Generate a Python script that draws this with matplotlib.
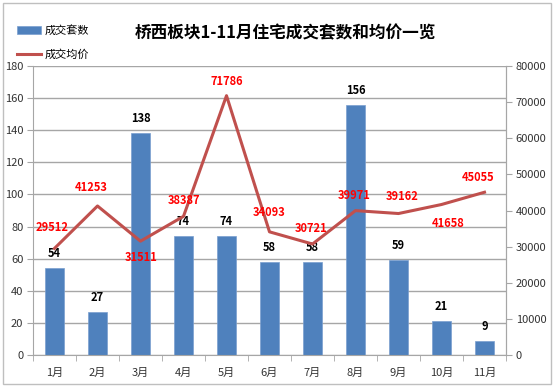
import matplotlib.pyplot as plt
import numpy as np
from matplotlib.patches import Rectangle

plt.rcParams['font.family'] = ['Noto Sans CJK SC', 'DejaVu Sans']

# data
months = ['1月', '2月', '3月', '4月', '5月', '6月', '7月', '8月', '9月', '10月', '11月']
deals = [54, 27, 138, 74, 74, 58, 58, 156, 59, 21, 9]
prices = [29512, 41253, 31511, 38387, 71786, 34093, 30721, 39971, 39162, 41658, 45055]

# label offsets for the price labels (pixels), like the excel data labels
price_off = [(-2, 21), (-6, 18), (1, -16), (1, 16), (0, 14), (0, 19),
             (-1, 16), (-1, 15), (4, 17), (7, -19), (-6, 15)]

bar_color = '#4F81BD'
line_color = '#C0504D'
grid_color = '#A6A6A6'

fig = plt.figure(figsize=(5.54, 3.87), dpi=100)
fig.patches.append(Rectangle((0.006, 0.008), 0.988, 0.984, transform=fig.transFigure,
                             fill=False, edgecolor='#BFBFBF', linewidth=1))

ax = fig.add_axes([33 / 554, 1 - 355 / 387, 473 / 554, 289 / 387])
x = np.arange(len(months))

ax.bar(x, deals, width=0.42, color=bar_color, edgecolor='#7A9FCF', linewidth=0.5,
       zorder=2, label='成交套数')
for xi, v in zip(x, deals):
    ax.annotate(str(v), (xi, v), textcoords='offset pixels', xytext=(0, 8),
                ha='center', va='bottom', fontsize=8, fontweight='bold', color='black')

ax.set_ylim(0, 180)
ax.set_yticks(np.arange(0, 181, 20))
ax.set_xlim(-0.5, len(months) - 0.5)
ax.set_xticks(x)
ax.set_xticklabels(months)
ax.set_xticks(np.arange(-0.5, len(months), 1), minor=True)
ax.tick_params(axis='x', which='major', length=0, pad=9, labelsize=8, colors='#333333')
ax.tick_params(axis='x', which='minor', length=4, color=grid_color, direction='out')
ax.tick_params(axis='y', length=4, color=grid_color, labelsize=8, labelcolor='#333333', pad=3)
ax.grid(axis='y', color=grid_color, linewidth=1, zorder=0)
ax.set_axisbelow(True)
ax.spines['top'].set_visible(False)
for s in ['left', 'right', 'bottom']:
    ax.spines[s].set_color(grid_color)

ax2 = ax.twinx()
ax2.plot(x, prices, color=line_color, linewidth=2.2, zorder=3, label='成交均价')
for xi, v, (dx, dy) in zip(x, prices, price_off):
    ax2.annotate(str(v), (xi, v), textcoords='offset pixels', xytext=(dx, dy),
                 ha='center', va='center', fontsize=8, fontweight='bold', color='#FF0000')
ax2.set_ylim(0, 80000)
ax2.set_yticks(np.arange(0, 80001, 10000))
ax2.tick_params(axis='y', length=4, color=grid_color, labelsize=8, labelcolor='#333333', pad=3)
for s in ['top', 'left', 'bottom']:
    ax2.spines[s].set_visible(False)
ax2.spines['right'].set_color(grid_color)

fig.text(285 / 554, 1 - 33 / 387, '桥西板块1-11月住宅成交套数和均价一览',
         ha='center', va='center', fontsize=12, fontweight='bold', color='black')

# legend
h1, l1 = ax.get_legend_handles_labels()
h2, l2 = ax2.get_legend_handles_labels()
fig.legend(h1 + h2, l1 + l2, loc='upper left', bbox_to_anchor=(0.012, 0.962),
           frameon=False, fontsize=8, handlelength=2.2, handletextpad=0.3,
           labelspacing=1.25)

plt.savefig('out.png', dpi=100)
